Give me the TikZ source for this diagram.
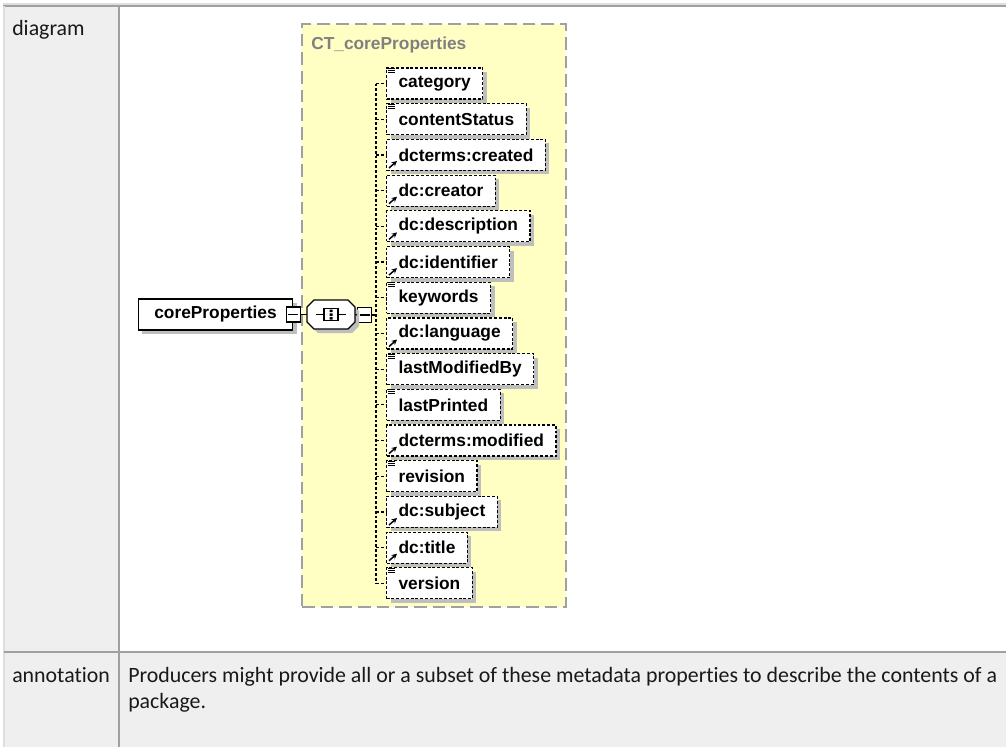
\documentclass[tikz,border=0pt]{standalone}
\usepackage{fontspec}
\setmainfont[Ligatures=NoCommon]{Carlito}
\newfontfamily\xsdfont{Liberation Sans}
\usepackage{tikz}
\usetikzlibrary{positioning}
\usetikzlibrary{arrows.meta}
\usetikzlibrary{shadows}

\definecolor{cellgray}{RGB}{239,239,239}
\definecolor{rulegray}{RGB}{160,160,160}
\definecolor{rulelight}{RGB}{222,222,222}
\definecolor{typeyellow}{RGB}{255,255,196}
\definecolor{shadowgray}{RGB}{190,190,190}
\definecolor{titlegray}{RGB}{128,128,128}

% small marks in the corner of an element box
\newcommand{\typeicon}[1]{%
  \draw[line width=0.6pt] ([shift={(2,1)}]#1.north west) -- ++(7,0)
    ([shift={(2,3)}]#1.north west) -- ++(7,0)
    ([shift={(2,5)}]#1.north west) -- ++(7,0);}
\newcommand{\refarrow}[1]{%
  \draw[-{Stealth[length=4pt,width=4pt]}, line width=1.1pt]
    ([shift={(3,-3)}]#1.south west) -- ++(8,-7);}

\begin{document}
\begin{tikzpicture}[x=0.75pt, y=-0.75pt]
    \tikzstyle{celltext}=[anchor=base west, inner sep=0pt,
        font=\fontsize{16.4}{19}\selectfont, text=black!90]
    \tikzstyle{shadowed}=[drop shadow={shadow xshift=3pt, shadow yshift=-3pt,
        fill=shadowgray, opacity=1}]
    \tikzstyle{elem}=[shadowed, draw, fill=white, anchor=west,
        dash pattern=on 2.2pt off 1.4pt, line width=0.9pt,
        minimum height=23.25pt, inner xsep=9pt, inner ysep=0pt,
        font=\xsdfont\bfseries\fontsize{13}{15}\selectfont]
    \tikzstyle{rootbox}=[shadowed, draw, fill=white, line width=0.9pt,
        minimum width=116pt, minimum height=23.25pt, inner sep=0pt,
        font=\xsdfont\bfseries\fontsize{13}{15}\selectfont]
    \tikzstyle{minus}=[draw, fill=white, line width=0.8pt,
        minimum width=10.5pt, minimum height=11.25pt, inner sep=0pt]
    \tikzstyle{spine}=[line width=0.9pt, dash pattern=on 2.2pt off 1.4pt]

    \useasboundingbox (0,0) rectangle (1006,747);

    % table cells and rules
    \fill[cellgray] (4,6) rectangle (119,747);
    \fill[cellgray] (119,652) rectangle (1006,747);
    \draw[rulelight, line width=1.5pt] (3,3.5) -- (1006,3.5);
    \draw[rulegray, line width=1.5pt] (3,6) -- (1006,6);
    \draw[rulelight, line width=1.2pt] (4,6) -- (4,747);
    \draw[rulegray, line width=1.5pt] (119,6) -- (119,747);
    \draw[rulegray, line width=1.5pt] (4,652) -- (1006,652);

    \node[celltext] (diaglabel) at (12,35) {diagram};
    \node[celltext] (annlabel) at (12,682) {annotation};
    \node[celltext] (anntext) at (128,682) {Producers might provide all or a subset of these metadata properties to describe the contents of a};
    \node[celltext] (anntext2) at (128,708) {package.};

    % complex type
    \node[draw=rulegray, fill=typeyellow, line width=1.5pt,
        dash pattern=on 9.5pt off 4.5pt, minimum width=198pt,
        minimum height=437pt, inner sep=0pt] (ctbox) at (434,315.5) {};
    \node[anchor=west, inner sep=0pt, text=titlegray,
        font=\xsdfont\bfseries\fontsize{13}{15}\selectfont]
        (cttitle) at (311,45) {CT\_coreProperties};

    % root element and sequence
    \node[rootbox] (root) at (215.5,314.5) {coreProperties};
    \node[minus] (rootminus) at (root.east) {};
    \node[minimum width=36pt, minimum height=21.75pt, inner sep=0pt] (seq) at (331,314.5) {};
    \node[minus] (seqminus) at (364.5,315) {};
    \coordinate (spine) at (376,315);

    \draw[shadowed, fill=white, line width=0.9pt]
        ([shift={(-17,-14.5)}]seq.center) -- ([shift={(17,-14.5)}]seq.center)
        -- ([shift={(24,-7.5)}]seq.center) -- ([shift={(24,7.5)}]seq.center)
        -- ([shift={(17,14.5)}]seq.center) -- ([shift={(-17,14.5)}]seq.center)
        -- ([shift={(-24,7.5)}]seq.center) -- ([shift={(-24,-7.5)}]seq.center)
        -- cycle;

    \draw[line width=0.9pt] (rootminus.east) -- (seq.west);
    \draw[line width=0.9pt] (seq.east) -- (seqminus.west);
    \draw[line width=0.9pt] (seqminus.east) -- (spine);
    \draw[line width=0.8pt] ([shift={(-5,0)}]rootminus.center) -- ([shift={(5,0)}]rootminus.center);
    \draw[line width=0.8pt] ([shift={(-5,0)}]seqminus.center) -- ([shift={(5,0)}]seqminus.center);

    % sequence mark
    \draw[line width=0.8pt] ([shift={(-15,0)}]seq.center) -- ([shift={(15,0)}]seq.center);
    \draw[line width=0.8pt, fill=white] ([shift={(-7,-6)}]seq.center) rectangle ([shift={(7,6)}]seq.center);
    \fill ([shift={(-1.5,-5)}]seq.center) rectangle ++(3,2.5)
        ([shift={(-1.5,-1.25)}]seq.center) rectangle ++(3,2.5)
        ([shift={(-1.5,2.5)}]seq.center) rectangle ++(3,2.5);

    % child elements
    \node[elem] (category) at (386,83.5) {category};
    \node[elem] (contentStatus) at (386,119.2) {contentStatus};
    \node[elem] (created) at (386,154.9) {dcterms:created};
    \node[elem] (creator) at (386,190.6) {dc:creator};
    \node[elem] (description) at (386,226.3) {dc:description};
    \node[elem] (identifier) at (386,262) {dc:identifier};
    \node[elem] (keywords) at (386,297.7) {keywords};
    \node[elem] (language) at (386,333.4) {dc:language};
    \node[elem] (lastModifiedBy) at (386,369.1) {lastModifiedBy};
    \node[elem] (lastPrinted) at (386,404.8) {lastPrinted};
    \node[elem] (modified) at (386,440.5) {dcterms:modified};
    \node[elem] (revision) at (386,476.2) {revision};
    \node[elem] (subject) at (386,511.9) {dc:subject};
    \node[elem] (title) at (386,547.6) {dc:title};
    \node[elem] (version) at (386,583.3) {version};

    \typeicon{category} \typeicon{contentStatus} \typeicon{keywords}
    \typeicon{lastModifiedBy} \typeicon{lastPrinted} \typeicon{revision}
    \typeicon{version}
    \refarrow{created} \refarrow{creator} \refarrow{description}
    \refarrow{identifier} \refarrow{language} \refarrow{modified}
    \refarrow{subject} \refarrow{title}

    \draw[spine] (spine |- category.west) -- (spine |- version.west);
    \draw[spine] (spine |- category.west) -- (category.west)
        (spine |- contentStatus.west) -- (contentStatus.west)
        (spine |- created.west) -- (created.west)
        (spine |- creator.west) -- (creator.west)
        (spine |- description.west) -- (description.west)
        (spine |- identifier.west) -- (identifier.west)
        (spine |- keywords.west) -- (keywords.west)
        (spine |- language.west) -- (language.west)
        (spine |- lastModifiedBy.west) -- (lastModifiedBy.west)
        (spine |- lastPrinted.west) -- (lastPrinted.west)
        (spine |- modified.west) -- (modified.west)
        (spine |- revision.west) -- (revision.west)
        (spine |- subject.west) -- (subject.west)
        (spine |- title.west) -- (title.west)
        (spine |- version.west) -- (version.west);
\end{tikzpicture}
\end{document}
